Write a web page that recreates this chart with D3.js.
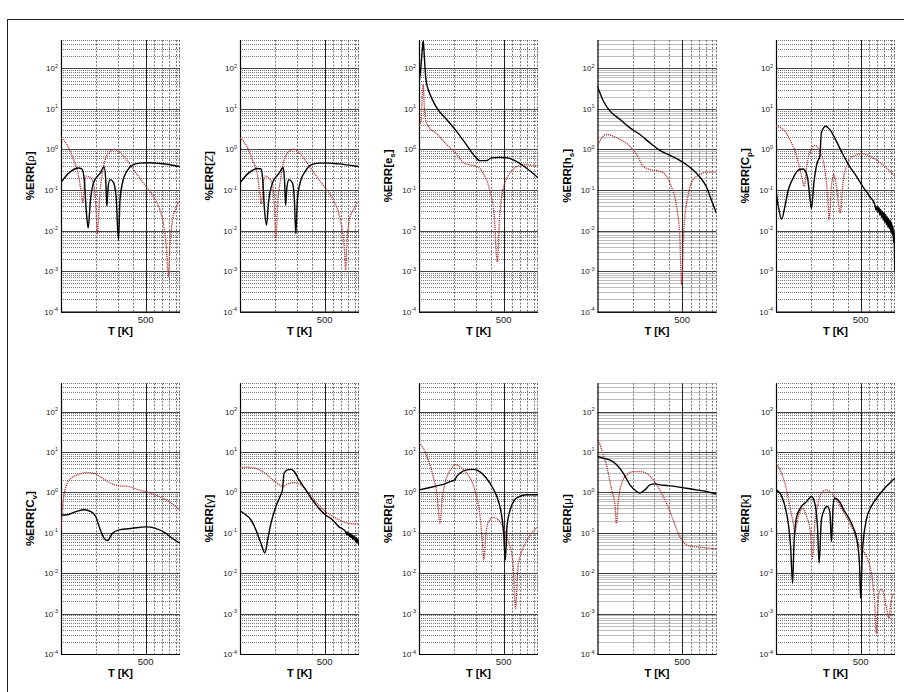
<!DOCTYPE html>
<html><head><meta charset="utf-8">
<script src="https://cdn.jsdelivr.net/npm/d3@7"></script>
<style>body{margin:0;background:#fff}svg{display:block}text{font-family:"Liberation Sans",Arial,sans-serif}</style>
</head><body>
<script>
// ---------- data (T [K], %error) ----------
const yLabels = [
  ["%ERR[", "ρ", "", "]"], ["%ERR[", "Z", "", "]"], ["%ERR[e", "", "s", "]"], ["%ERR[h", "", "s", "]"], ["%ERR[C", "", "p", "]"],
  ["%ERR[C", "", "v", "]"], ["%ERR[", "γ", "", "]"], ["%ERR[", "a", "", "]"], ["%ERR[", "μ", "", "]"], ["%ERR[", "k", "", "]"]
];
const xTickLabels = [500];
const yTickExps = [-4, -3, -2, -1, 0, 1, 2];

const rhoBlack = [[100,0.155],[115.6,0.26],[139.7,0.35],[148.8,0.33],[155.5,0.18],[161.5,0.032],[167.7,0.0115],[174.2,0.048],[185.5,0.15],[210.5,0.26],[227,0.37],[234,0.18],[239,0.04],[245,0.12],[254,0.18],[271,0.155],[285,0.069],[298,0.0059],[307,0.058],[323,0.16],[349,0.29],[383,0.40],[449,0.46],[543,0.47],[656,0.45],[792,0.42],[958,0.38]];
const rhoRed = [[100,1.93],[112,1.32],[127,0.56],[139.7,0.22],[147,0.085],[151.6,0.048],[155.5,0.12],[161.5,0.22],[172,0.21],[185.5,0.144],[194,0.04],[200,0.0083],[207,0.048],[214.6,0.16],[231,0.54],[254,0.9],[280,1.0],[307,0.85],[338,0.62],[396,0.32],[478,0.15],[578,0.069],[656,0.032],[707,0.0125],[744,0.0033],[767,0.00072],[792,0.004],[833,0.0186],[888,0.036],[958,0.055]];
const zBlack = [[100,0.15],[115.6,0.25],[139.7,0.34],[148.8,0.33],[154,0.18],[159,0.035],[165.6,0.0137],[172,0.05],[185.5,0.15],[210.5,0.26],[227,0.36],[233,0.18],[238,0.042],[244,0.12],[254,0.18],[271,0.15],[281,0.06],[289,0.0083],[298,0.06],[317,0.17],[349,0.3],[383,0.41],[449,0.46],[543,0.46],[656,0.44],[792,0.41],[958,0.38]];
const zRed = [[100,1.93],[112,1.3],[127,0.55],[139.7,0.22],[146,0.08],[150,0.045],[154.5,0.12],[160.5,0.22],[172,0.2],[185.5,0.14],[192,0.04],[198,0.006],[205,0.05],[214.6,0.16],[231,0.54],[254,0.9],[280,1.0],[307,0.85],[338,0.6],[396,0.3],[478,0.14],[578,0.062],[650,0.028],[700,0.01],[730,0.003],[744,0.00107],[760,0.004],[800,0.0186],[870,0.034],[958,0.055]];
const esBlack = [[100,44],[103.9,115],[106.5,295],[108.5,480],[110.6,200],[114,54],[119.3,30],[127,18.7],[139.7,10.7],[169,5.5],[204,2.8],[246,1.32],[289,0.68],[317,0.53],[360,0.53],[396,0.62],[463,0.64],[543,0.62],[635,0.51],[767,0.35],[871,0.26],[958,0.2]];
const esRed = [[100,3.75],[103.9,5.5],[106.5,21],[108.5,40],[110.6,11.7],[114,5.0],[119.3,3.75],[139.7,2.47],[169,1.32],[204,0.79],[231,0.48],[263,0.42],[298,0.385],[338,0.26],[383,0.10],[416,0.027],[443,0.0017],[463,0.022],[494,0.10],[543,0.22],[635,0.37],[721,0.42],[958,0.40]];
const hsBlack = [[100,36],[112,15.5],[127,8.8],[153.6,5.5],[185.5,3.4],[224,2.34],[271,1.45],[327,0.95],[396,0.72],[478,0.54],[543,0.42],[616,0.31],[698,0.21],[792,0.12],[871,0.057],[958,0.027]];
const hsRed = [[100,1.2],[108.5,1.93],[119.3,2.34],[131,2.2],[153.6,1.76],[185.5,1.2],[210.5,0.75],[239,0.38],[271,0.32],[327,0.29],[371,0.22],[408,0.12],[449,0.04],[478,0.0071],[494,0.00046],[516,0.0104],[565,0.085],[616,0.18],[698,0.24],[792,0.275],[958,0.275]];
const cpBlack = [[100,0.10],[104.5,0.04],[111.3,0.019],[118.6,0.04],[126.3,0.10],[138.8,0.2],[152.6,0.31],[167.7,0.33],[181,0.22],[190,0.07],[196,0.035],[205.5,0.15],[218.6,0.47],[230,0.68],[237,2.6],[257.6,3.75],[278,3.1],[315,1.6],[357,0.75],[406,0.38],[460,0.22],[522,0.12],[593,0.07],[652,0.045],[672,0.032],[684,0.04],[696,0.028],[708,0.037],[720,0.024],[732,0.033],[744,0.021],[756,0.03],[768,0.018],[780,0.028],[792,0.016],[804,0.025],[816,0.014],[828,0.022],[840,0.012],[852,0.02],[864,0.011],[876,0.018],[888,0.009],[900,0.016],[912,0.008],[924,0.013],[936,0.005],[945,0.009],[952,0.002],[958,0.001]];
const cpRed = [[100,3.75],[115,3.1],[130,1.76],[148,0.68],[162.6,0.22],[171,0.124],[181,0.47],[196,1.0],[209,1.26],[230,0.9],[253,0.32],[269,0.048],[274,0.0186],[287,0.124],[300,0.24],[315,0.124],[340,0.027],[357,0.15],[393,0.47],[432,0.68],[522,0.78],[631,0.62],[762,0.42],[958,0.22]];
const cvBlack = [[100,0.275],[110,0.275],[133,0.335],[155.5,0.37],[176.4,0.335],[194,0.25],[207,0.14],[227,0.073],[242,0.064],[266,0.098],[302,0.118],[388,0.129],[500,0.14],[604,0.129],[730,0.098],[828,0.073],[958,0.055]];
const cvRed = [[100,0.118],[103.2,0.44],[110,1.38],[120.8,2.24],[137,2.7],[160.5,3.1],[188,2.95],[220,2.24],[257.6,1.68],[302,1.45],[364,1.39],[440,1.15],[532,0.99],[644,0.79],[778,0.59],[958,0.36]];
const gammaBlack = [[100,0.35],[112,0.275],[123,0.21],[135.4,0.118],[148.8,0.055],[160.5,0.032],[169,0.066],[180,0.17],[198,0.45],[217,0.87],[224,1.15],[231,2.95],[246,3.6],[263,3.7],[280,3.27],[307,2.04],[349,1.15],[396,0.65],[449,0.4],[509,0.275],[578,0.21],[656,0.14],[744,0.107],[756,0.09],[768,0.105],[780,0.085],[792,0.1],[804,0.08],[816,0.095],[828,0.075],[840,0.09],[852,0.07],[864,0.085],[876,0.066],[888,0.08],[900,0.06],[912,0.075],[924,0.055],[936,0.07],[958,0.05]];
const gammaRed = [[100,4.0],[112,4.2],[131,4.0],[153.6,3.27],[180,2.24],[210.5,1.53],[224,1.39],[246,1.62],[280,1.74],[317,1.53],[360,1.05],[421,0.59],[509,0.335],[616,0.23],[744,0.18],[844,0.166],[958,0.165]];
const aBlack = [[100,1.15],[115.6,1.26],[139.7,1.45],[158.5,1.58],[180,1.85],[198,2.04],[204,2.45],[217,2.95],[246,3.6],[280,3.7],[317,3.27],[360,2.24],[408,1.26],[449,0.65],[478,0.3],[500,0.098],[516,0.0214],[532,0.14],[565,0.37],[616,0.65],[677,0.79],[767,0.87],[958,0.87]];
const aRed = [[100,17],[108.5,12.3],[119.3,6.3],[131,2.45],[141.5,0.79],[148.8,0.17],[156.5,0.79],[166.7,2.04],[182,3.6],[201,4.8],[224,4.0],[254,2.7],[289,1.15],[317,0.3],[333,0.066],[342,0.0214],[360,0.118],[383,0.21],[408,0.24],[449,0.21],[494,0.14],[543,0.066],[597,0.0178],[627,0.00135],[656,0.0144],[698,0.031],[767,0.06],[871,0.107],[958,0.14]];
const muBlack = [[100,7.8],[112,7.0],[127,6.3],[144,4.8],[163.6,2.95],[185.5,1.53],[210.5,1.05],[224,0.96],[246,1.15],[271,1.53],[298,1.62],[327,1.53],[371,1.48],[449,1.39],[543,1.26],[656,1.15],[792,1.05],[958,0.91]];
const muRed = [[100,22],[108.5,11.2],[119.3,4.4],[131,1.15],[139.7,0.45],[143,0.17],[148.8,0.65],[158.5,1.68],[174.2,2.7],[198,3.27],[224,3.27],[254,2.95],[289,2.04],[327,1.15],[371,0.54],[421,0.21],[463,0.098],[509,0.06],[578,0.047],[698,0.044],[958,0.04]];
const kBlack = [[100,1.15],[107.8,0.96],[118.6,0.45],[126.3,0.17],[132,0.046],[137,0.0056],[140.6,0.046],[148,0.25],[162.6,0.45],[179,0.59],[196,0.79],[209,0.54],[220,0.14],[227,0.0178],[237,0.21],[253,0.4],[264,0.45],[278,0.335],[287,0.06],[296,0.45],[305,0.72],[325,0.65],[340,0.54],[357,0.4],[393,0.25],[432,0.14],[466,0.066],[490,0.0145],[500,0.0024],[516,0.032],[557,0.21],[612,0.45],[694,0.79],[787,1.26],[894,1.85],[958,2.24]];
const kRed = [[100,5.2],[107.8,3.6],[118.6,1.68],[130,0.45],[138.8,0.17],[143,0.107],[152.6,0.25],[165.6,0.4],[179,0.25],[193,0.098],[200,0.0234],[209,0.17],[223,0.54],[237,0.96],[261,1.15],[287,0.96],[315,0.65],[346,0.4],[380,0.25],[432,0.118],[490,0.046],[557,0.026],[612,0.01],[652,0.0018],[673,0.00032],[707,0.0032],[738,0.004],[772,0.0032],[812,0.0015],[855,0.00076],[894,0.0022],[952,0.0032]];

const blackSeries = [rhoBlack, zBlack, esBlack, hsBlack, cpBlack, cvBlack, gammaBlack, aBlack, muBlack, kBlack];
const redSeries = [rhoRed, zRed, esRed, hsRed, cpRed, cvRed, gammaRed, aRed, muRed, kRed];

// ---------- layout ----------
const W = 904, H = 692;
const lefts = [61, 240, 419, 597.5, 776];
const pw = 119;
const rows = [{top: 40, bottom: 311.7}, {top: 383.3, bottom: 654}];
const xDomain = [100, 960], yDomain = [1e-4, 500];

const svg = d3.select("body").append("svg").attr("width", W).attr("height", H);
svg.append("rect").attr("x", 7.5).attr("y", 19.5).attr("width", 1000).attr("height", 1000)
  .attr("fill", "none").attr("stroke", "#222").attr("stroke-width", 1);

const defs = svg.append("defs");

for (let i = 0; i < 10; i++) {
  const r = rows[Math.floor(i / 5)];
  const left = lefts[i % 5];
  const x = d3.scaleLog().domain(xDomain).range([left, left + pw]);
  const y = d3.scaleLog().domain(yDomain).range([r.bottom, r.top]);
  const g = svg.append("g");
  const cid = "clip" + i;
  defs.append("clipPath").attr("id", cid).append("rect")
    .attr("x", left).attr("y", r.top - 1).attr("width", pw).attr("height", r.bottom - r.top + 1);

  // minor horizontal grid
  const minorY = [];
  for (let e = -4; e <= 2; e++) for (let m = 2; m <= 9; m++) { const v = m * Math.pow(10, e); if (v <= 500) minorY.push(v); }
  g.selectAll(".hm").data(minorY).enter().append("line")
    .attr("x1", left).attr("x2", left + pw).attr("y1", d => Math.round(y(d)) + 0.5).attr("y2", d => Math.round(y(d)) + 0.5)
    .attr("stroke", "#555").attr("stroke-width", 0.8).attr("stroke-dasharray", "1,1");
  // major horizontal grid
  g.selectAll(".hM").data(yTickExps.map(e => Math.pow(10, e))).enter().append("line")
    .attr("x1", left).attr("x2", left + pw).attr("y1", d => Math.round(y(d)) + 0.5).attr("y2", d => Math.round(y(d)) + 0.5)
    .attr("stroke", "#444").attr("stroke-width", 1.1);
  // vertical minor grid
  const minorX = [200, 300, 400, 600, 700, 800, 900, 960];
  g.selectAll(".vm").data(minorX).enter().append("line")
    .attr("x1", d => Math.round(x(d)) - 0.5).attr("x2", d => Math.round(x(d)) - 0.5).attr("y1", r.top).attr("y2", r.bottom)
    .attr("stroke", "#555").attr("stroke-width", 0.8).attr("stroke-dasharray", "2,1.5");
  g.selectAll(".vM").data(xTickLabels).enter().append("line")
    .attr("x1", d => Math.round(x(d)) + 0.5).attr("x2", d => Math.round(x(d)) + 0.5).attr("y1", r.top).attr("y2", r.bottom)
    .attr("stroke", "#222").attr("stroke-width", 1);

  // axes lines (left, bottom)
  g.append("line").attr("x1", left + 0.5).attr("x2", left + 0.5).attr("y1", r.top).attr("y2", r.bottom + 0.5).attr("stroke", "#000").attr("stroke-width", 1.2);
  g.append("line").attr("x1", left).attr("x2", left + pw).attr("y1", r.bottom + 0.5).attr("y2", r.bottom + 0.5).attr("stroke", "#000").attr("stroke-width", 1.2);

  // y tick labels
  yTickExps.forEach(e => {
    const t = g.append("text").attr("x", left - 3).attr("y", y(Math.pow(10, e)) + 3)
      .attr("text-anchor", "end").attr("font-size", 8).attr("fill", "#222");
    t.append("tspan").text("10");
    t.append("tspan").attr("dy", -3.5).attr("font-size", 5.5).text(e);
  });
  // x tick labels
  xTickLabels.forEach(v => {
    g.append("text").attr("x", x(v)).attr("y", r.bottom + 11).attr("text-anchor", "middle")
      .attr("font-size", 9.5).attr("fill", "#222").text(v);
  });
  // x title
  g.append("text").attr("x", left + pw / 2).attr("y", r.bottom + 23).attr("text-anchor", "middle")
    .attr("font-size", 11).attr("font-weight", "bold").text("T [K]");
  // y title
  const [pre, mid, sub, post] = yLabels[i];
  const yt = g.append("text").attr("transform", `translate(${left - 27},${(r.top + r.bottom) / 2}) rotate(-90)`)
    .attr("text-anchor", "middle").attr("font-size", 11.5).attr("font-weight", "bold");
  yt.append("tspan").text(pre);
  if (mid) yt.append("tspan").attr("font-weight", "normal").text(mid);
  if (sub) { yt.append("tspan").attr("font-size", 8).attr("dy", 3).text(sub); yt.append("tspan").attr("dy", -3).text(post); }
  else yt.append("tspan").text(post);

  const line = d3.line().x(d => x(d[0])).y(d => y(d[1])).curve(d3.curveMonotoneX);
  const pg = g.append("g").attr("clip-path", `url(#${cid})`);
  pg.append("path").datum(redSeries[i]).attr("d", line).attr("fill", "none")
    .attr("stroke", "#b03030").attr("stroke-width", 1.3).attr("stroke-dasharray", "1.2,0.9");
  pg.append("path").datum(blackSeries[i]).attr("d", line).attr("fill", "none")
    .attr("stroke", "#000").attr("stroke-width", 1.4);
}
</script>
</body></html>
